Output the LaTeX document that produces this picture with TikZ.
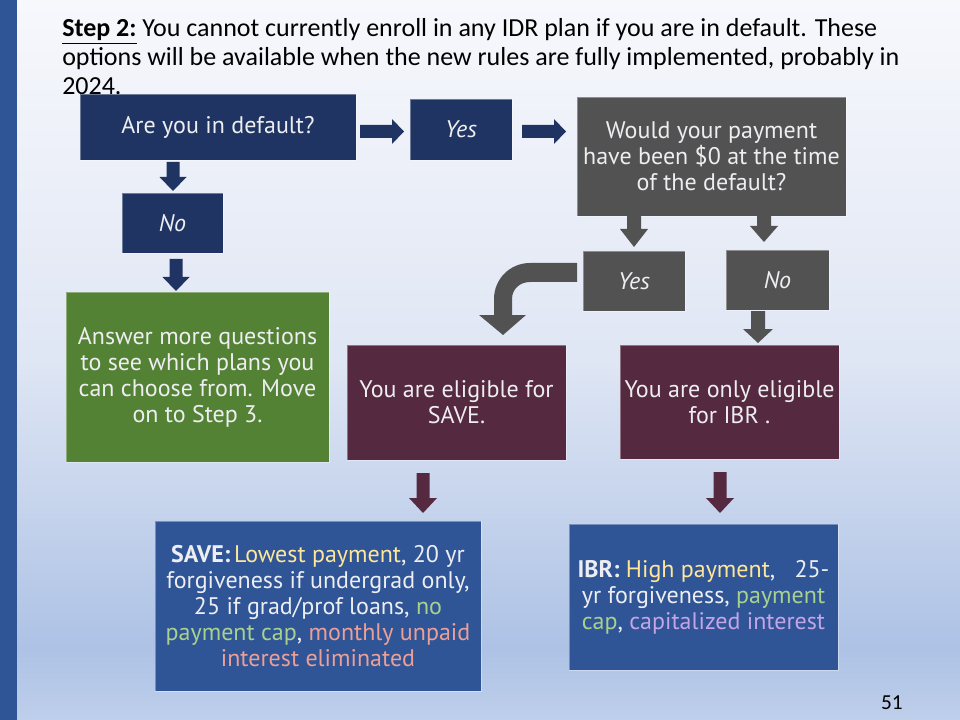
\documentclass[tikz,border=0pt]{standalone}
\usepackage{fontspec}
\setmainfont{Carlito}
\newfontfamily\gsfont{PT Sans}
\usetikzlibrary{calc}
\definecolor{bgtop}{HTML}{F7F8FC}
\definecolor{bgmidA}{HTML}{DFE6F4}
\definecolor{bgmidB}{HTML}{ADC2E5}
\definecolor{bgbot}{HTML}{BFCFEB}
\definecolor{stripc}{HTML}{2F5597}
\definecolor{navyc}{HTML}{1F3462}
\definecolor{grayc}{HTML}{525252}
\definecolor{greenc}{HTML}{548235}
\definecolor{maroonc}{HTML}{55293F}
\definecolor{bluec}{HTML}{2F5597}
\definecolor{boxtext}{HTML}{EEEEF2}
\definecolor{yelc}{HTML}{FFE699}
\definecolor{grnc}{HTML}{A9D18E}
\definecolor{salc}{HTML}{EC9F96}
\definecolor{lavc}{HTML}{C4A5E6}
\pgfdeclareverticalshading{bgshade}{100bp}{color(0bp)=(bgbot); color(25bp)=(bgbot); color(30bp)=(bgmidB); color(50bp)=(bgmidA); color(75bp)=(bgtop); color(100bp)=(bgtop)}
\newcommand\bxfont{\gsfont\fontsize{18pt}{19.5pt}\selectfont}
\newcommand\dnarr[7]{%
  \fill[#1] ({#2-#5},#3) -- ({#2+#5},#3) -- ({#2+#5},{#4-#7}) -- ({#2+#6},{#4-#7}) -- (#2,#4) -- ({#2-#6},{#4-#7}) -- ({#2-#5},{#4-#7}) -- cycle;}
\newcommand\rtarr[7]{%
  \fill[#1] (#2,{#4-#5}) -- ({#3-#7},{#4-#5}) -- ({#3-#7},{#4-#6}) -- (#3,#4) -- ({#3-#7},{#4+#6}) -- ({#3-#7},{#4+#5}) -- (#2,{#4+#5}) -- cycle;}
\tikzset{
  bx/.style 2 args={rectangle, minimum width=#1*0.75pt, minimum height=#2*0.75pt,
    inner sep=0pt, align=center, font=\bxfont, text=boxtext,
    draw=white, draw opacity=0.35, line width=0.6pt},
  ttl/.style={anchor=base west, inner sep=0pt, font=\fontsize{19.5pt}{21.75pt}\selectfont, text=black},
}
\begin{document}
\begin{tikzpicture}[x=0.75pt,y=-0.75pt]
\useasboundingbox (0,0) rectangle (960,720);
\shade[shading=bgshade] (0,0) rectangle (960,720);
\fill[stripc] (0,0) rectangle (17,720);

% title
\node[ttl] (t1) at (62,37) {\underline{\textbf{Step 2:}} You cannot currently enroll in any IDR plan if you are in default. These};
\node[ttl] (t2) at (62,66) {options will be available when the new rules are fully implemented, probably in};
\node[ttl] (t3) at (62,95) {2024.};

% boxes
\node[bx={276}{66}, fill=navyc] (def) at (218,127) {Are you in default?};
\node[bx={102}{61}, fill=navyc] (yes1) at (461,129.5) {\itshape Yes};
\node[bx={269}{119}, fill=grayc] (q) at (711.5,156.5) {Would your payment\\have been \$0 at the time\\of the default?};
\node[bx={101}{60}, fill=navyc] (no1) at (172.5,223) {\itshape No};
\node[bx={263}{170}, fill=greenc] (green) at (197.5,377) {Answer more questions\\to see which plans you\\can choose from. Move\\on to Step 3.};
\node[bx={102}{60}, fill=grayc] (yes2) at (634,281) {\itshape Yes};
\node[bx={103}{60}, fill=grayc] (no2) at (777.5,280) {\itshape No};
\node[bx={219}{115}, fill=maroonc] (save) at (456.5,402.5) {You are eligible for\\SAVE.};
\node[bx={219}{114}, fill=maroonc] (ibr) at (729.5,402) {You are only eligible\\for IBR .};
\node[bx={326}{170}, fill=bluec] (saved) at (318,606) {\textbf{SAVE:}\,\textcolor{yelc}{Lowest payment}, 20 yr\\forgiveness if undergrad only,\\25 if grad/prof loans, \textcolor{grnc}{no}\\\textcolor{grnc}{payment cap}, \textcolor{salc}{monthly unpaid}\\\textcolor{salc}{interest eliminated}};
\node[bx={269}{146}, fill=bluec] (ibrd) at (703.5,597) {\textbf{IBR:} \textcolor{yelc}{High payment},\ \ \ 25-\\yr forgiveness, \textcolor{grnc}{payment}\\\textcolor{grnc}{cap}, \textcolor{lavc}{capitalized interest}};

% arrows
\rtarr{navyc}{360}{404}{131.5}{6.5}{12.5}{12}
\rtarr{navyc}{522}{566}{131.5}{6.5}{12.5}{12}
\dnarr{navyc}{173}{162}{191}{6.5}{13.5}{14}
\dnarr{navyc}{176}{259}{291}{6.5}{13.5}{14}
\dnarr{grayc}{634}{209}{247}{7}{14}{18}
\dnarr{grayc}{764}{204}{242}{7}{14}{16}
\dnarr{grayc}{758}{311}{343}{7}{15}{14}
\dnarr{maroonc}{423}{473}{513}{6.5}{14}{15}
\dnarr{maroonc}{720}{472}{513}{6.5}{14}{15}
\fill[grayc] (577,263) -- (530,263) .. controls (510,263) and (494,279) .. (494,299) -- (494,315) -- (479,315) -- (503,335) -- (526,315) -- (512,315) -- (512,299) .. controls (512,289) and (520,282) .. (530,282) -- (577,282) -- cycle;

\node[anchor=base east, inner sep=0pt, font=\fontsize{16pt}{19pt}\selectfont] (pg) at (903,709) {51};
\end{tikzpicture}
\end{document}
